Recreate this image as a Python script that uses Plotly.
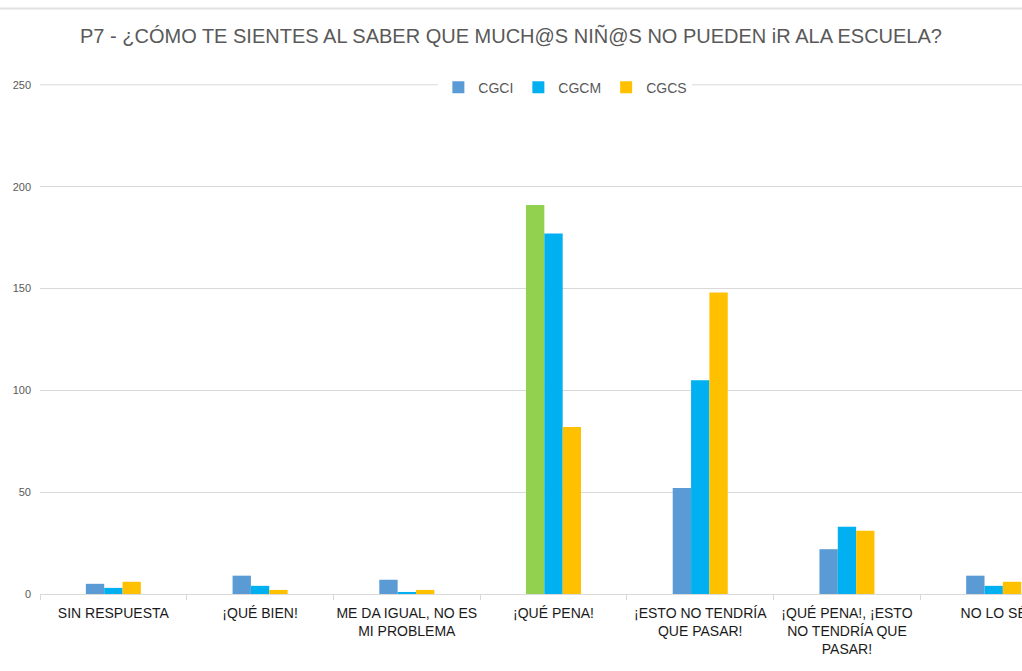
import plotly.graph_objects as go

categories = [
    "SIN RESPUESTA",
    "¡QUÉ BIEN!",
    "ME DA IGUAL, NO ES<br>MI PROBLEMA",
    "¡QUÉ PENA!",
    "¡ESTO NO TENDRÍA<br>QUE PASAR!",
    "¡QUÉ PENA!, ¡ESTO<br>NO TENDRÍA QUE<br>PASAR!",
    "NO LO SÉ",
]
cgci = [5, 9, 7, 191, 52, 22, 9]
cgcm = [3, 4, 1, 177, 105, 33, 4]
cgcs = [6, 2, 2, 82, 148, 31, 6]
y_ticks = [0, 50, 100, 150, 200, 250]

FONT = "Liberation Sans, Arial, sans-serif"
TEXT = "#595959"

# CGCI is blue except the highlighted ¡QUÉ PENA! bar, which is green
cgci_colors = ["#5B9BD5"] * len(categories)
cgci_colors[3] = "#92D050"

fig = go.Figure()
fig.add_trace(go.Bar(name="CGCI", x=categories, y=cgci,
                     marker=dict(color=cgci_colors, line=dict(width=0))))
fig.add_trace(go.Bar(name="CGCM", x=categories, y=cgcm,
                     marker=dict(color="#00B0F0", line=dict(width=0))))
fig.add_trace(go.Bar(name="CGCS", x=categories, y=cgcs,
                     marker=dict(color="#FFC000", line=dict(width=0))))

fig.update_layout(
    width=1022, height=671,
    margin=dict(l=40, r=0, t=84, b=77),
    paper_bgcolor="white", plot_bgcolor="white",
    barmode="group", bargap=0.625, bargroupgap=0,
    font=dict(family=FONT, color=TEXT),
    title=dict(
        text="P7 - ¿CÓMO TE SIENTES AL SABER QUE MUCH@S NIÑ@S NO PUEDEN iR ALA ESCUELA?",
        x=0.5, xanchor="center", y=0.947, yanchor="middle",
        font=dict(family=FONT, size=20, color=TEXT),
    ),
    legend=dict(
        orientation="h", x=0.535, xanchor="center", y=0.993, yanchor="middle",
        bgcolor="white", font=dict(family=FONT, size=14, color=TEXT),
        itemwidth=30, traceorder="normal",
    ),
    showlegend=True,
)

fig.update_xaxes(
    range=[-0.5, 6.193], automargin=False, tickangle=0,
    showline=True, linecolor="#D9D9D9", linewidth=1,
    ticks="outside", tickson="boundaries", ticklen=5, tickcolor="#D9D9D9",
    tickfont=dict(family=FONT, size=14, color="#1a1a1a"),
    ticklabelstandoff=6,
    showgrid=False, fixedrange=True,
)
fig.update_yaxes(
    range=[0, 250.4], tickvals=y_ticks, automargin=False,
    showgrid=True, gridcolor="#D9D9D9", gridwidth=1,
    zeroline=False, showline=False, ticks="",
    tickfont=dict(family=FONT, size=11, color=TEXT),
    ticklabelstandoff=8,
)

# top gridline, drawn explicitly so it shows at the edge of the range
fig.add_shape(type="line", xref="paper", yref="y", layer="below",
              x0=0, x1=1, y0=y_ticks[-1], y1=y_ticks[-1],
              line=dict(color="#D9D9D9", width=1))

# thin frame line along the top of the chart
fig.add_shape(type="line", xref="paper", yref="paper",
              x0=-0.05, x1=1.0, y0=1.148, y1=1.148,
              line=dict(color="#E0E0E0", width=2))

fig.write_html("out.html")
